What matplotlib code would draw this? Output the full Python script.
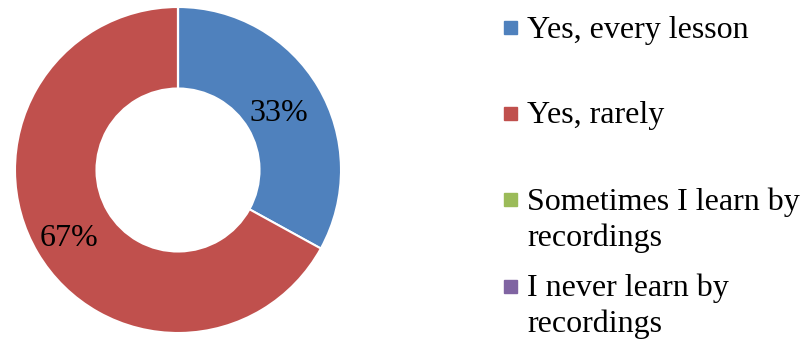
import numpy as np
import matplotlib.pyplot as plt
from matplotlib.patches import Rectangle

labels = ['Yes, every lesson', 'Yes, rarely',
          'Sometimes I learn by\nrecordings', 'I never learn by\nrecordings']
values = [33, 67, 0, 0]
colors = ['#4F81BD', '#C0504D', '#9BBB59', '#8064A2']

plt.rcParams['font.family'] = ['Liberation Serif', 'DejaVu Serif']

W, H = 806, 340
fig = plt.figure(figsize=(W/100, H/100), dpi=100)

# donut: centre (178,170) px, outer radius 163 px
cx, cy, R = 178, 170, 163
ax = fig.add_axes([(cx-R)/W, (H-cy-R)/H, 2*R/W, 2*R/H])
wedges, _ = ax.pie(values, colors=colors, startangle=90, counterclock=False,
                   radius=1,
                   wedgeprops=dict(width=0.5, edgecolor='white', linewidth=1.5))
ax.set_xlim(-1, 1); ax.set_ylim(-1, 1)
ax.set_aspect('equal')
ax.axis('off')

# percentage labels, placed along each wedge's mid angle
label_r = [0.72, 0.78, 0.75, 0.75]
total = sum(values)
for w, v, r in zip(wedges, values, label_r):
    if v == 0:
        continue
    ang = np.deg2rad((w.theta1 + w.theta2) / 2)
    ax.text(r*np.cos(ang), r*np.sin(ang), '%d%%' % round(100*v/total),
            fontsize=23, ha='center', va='center_baseline')

# legend drawn by hand (square markers, wrapped labels)
mark_y = [21, 107, 193, 280]   # top of marker, px from top
base_y = [38, 123, 210, 296]   # baseline of first text line, px from top
for lab, col, my, by in zip(labels, colors, mark_y, base_y):
    fig.patches.append(Rectangle((504/W, 1-(my+13)/H), 13/W, 13/H,
                                 transform=fig.transFigure, color=col))
    for k, line in enumerate(lab.split('\n')):
        fig.text(527/W, 1-(by+36*k)/H, line, fontsize=23, va='baseline', ha='left')

fig.savefig('out.png', dpi=100)
